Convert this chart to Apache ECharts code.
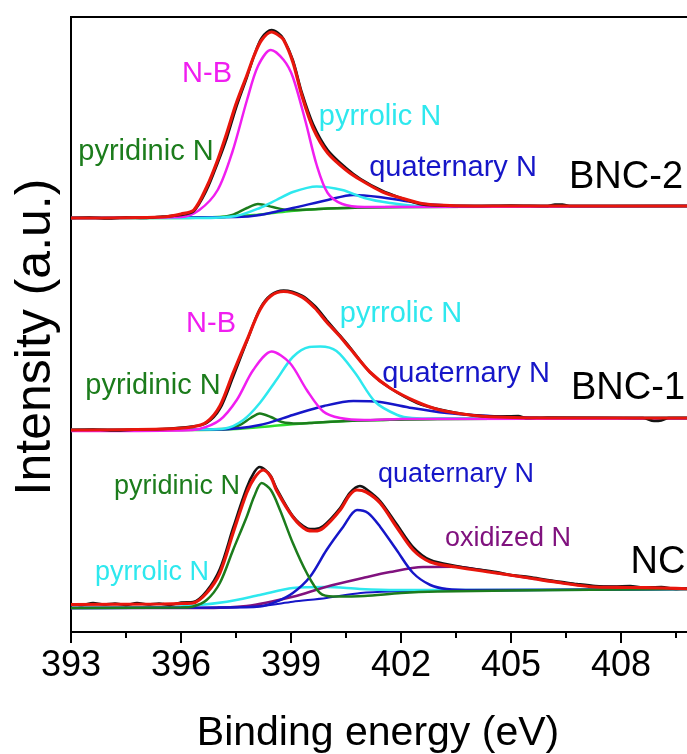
<!DOCTYPE html>
<html>
<head>
<meta charset="utf-8">
<script src="https://cdn.jsdelivr.net/npm/echarts@6/dist/echarts.min.js"></script>
<style>html,body{margin:0;padding:0;background:#fff;overflow:hidden;}#c{width:687px;height:754px;}</style>
</head>
<body>
<div id="c"></div>
<script>
// ---------- DATA (binding energy eV, intensity a.u. above each spectrum's own left baseline) ----------
const xTicks = [393, 396, 399, 402, 405, 408];
const sampleNames = ['BNC-2', 'BNC-1', 'NC'];

// BNC-2
const BNC2_bg = [[393,0],[396,0],[397,1],[398,3],[398.5,5],[399,7],[399.5,8.5],[400,9.5],[401,10.5],[402,11],[410,12]];
const BNC2_fit = [[393,0],[395.5,1],[396,4],[396.35,8],[396.7,31],[397,58],[397.25,85],[397.5,114],[397.8,143],[398,163],[398.2,178],[398.47,186],[398.65,183],[398.8,178],[399.05,156],[399.3,122],[399.6,90],[400,65],[400.5,48],[400.9,38],[401.5,26],[402,20],[402.5,15],[403,13],[404,12],[410,12]];
const BNC2_raw = [[393,0],[393.5,0.5],[394,-0.5],[394.5,0.5],[395,0],[395.5,1.5],[396,3],[396.35,7],[396.7,28],[397,55],[397.25,80],[397.5,110],[397.8,141],[398,163],[398.2,180],[398.47,188],[398.65,185],[398.8,179],[399.05,158],[399.3,125],[399.6,94],[400,68],[400.5,50],[400.9,39],[401.5,27],[402,20],[402.5,14],[403,12.5],[404,12],[405,12.5],[406,12],[406.2,13.5],[406.4,13.5],[406.6,12],[408,12],[410,12]];
const BNC2_NB = [[393,0],[396,1],[396.5,8],[397,28],[397.4,66],[397.8,118],[398.1,152],[398.45,168],[398.8,158],[399.05,141],[399.4,96],[399.7,53],[400,25],[400.4,14],[401,11],[410,12]];
const BNC2_pyrrolic = [[393,0],[396.5,0],[397.5,2],[398.15,10],[398.6,18],[399.05,26],[399.7,31.5],[400.4,28],[401,20],[401.7,15],[402.5,12],[410,12]];
const BNC2_quaternary = [[393,0],[397.5,1],[398.15,3],[399.05,10],[400,18],[400.7,23],[401.4,21],[402.3,16],[402.8,13.5],[404,12],[410,12]];
const BNC2_pyridinic = [[393,0],[397,0.5],[397.4,3],[397.8,10],[398.1,14],[398.5,11],[398.9,8],[399.5,8.5],[400,9.5],[401,10.5],[402,11],[410,12]];

// BNC-1
const BNC1_bg = [[393,0],[396.5,0],[397.5,1],[398.5,4],[399.5,7],[400.5,9],[401.5,10],[403,11],[410,12]];
const BNC1_fit = [[393,0],[395.5,1],[396.3,3],[396.7,8],[397.06,24],[397.42,57],[397.8,90],[398.15,120],[398.45,134],[398.8,138.5],[399.3,133],[399.65,122],[399.97,108],[400.3,95],[400.6,82],[401.15,58],[401.7,42],[402.44,28],[403.06,20],[403.88,15],[404.6,13],[406,12],[410,12]];
const BNC1_raw = [[393,0],[393.6,0.5],[394.2,-0.5],[394.8,0.5],[395.5,1],[396.3,3.5],[396.7,7],[397.06,21],[397.42,53],[397.8,89],[398.15,121],[398.45,135],[398.8,139.5],[399.3,134.5],[399.65,124],[399.97,110],[400.3,96],[400.6,83],[401.15,58],[401.7,42],[402.44,27],[403.06,20.5],[403.88,15],[404.6,13.5],[405.2,14],[405.4,12],[406,12.5],[408.6,12],[408.9,9],[409.1,9.5],[409.3,12],[410,12]];
const BNC1_NB = [[393,-1],[396,-0.5],[396.5,1],[397.06,10],[397.52,30],[397.97,60],[398.47,78.5],[398.97,67],[399.43,40],[399.88,18.5],[400.34,12],[401,10],[402,11],[410,11.5]];
const BNC1_pyrrolic = [[393,0],[396.5,0.5],[397.2,1.5],[397.7,10],[398.15,27],[398.6,50],[399.05,73],[399.5,83],[399.8,83.5],[400.24,79],[400.75,57],[401.3,28],[401.9,15],[402.3,12],[403,11.5],[410,12]];
const BNC1_quaternary = [[393,0],[397,0.5],[398.15,5],[399.05,15],[399.9,24],[400.7,29],[401.43,28],[402.3,22],[403.25,17],[404.15,14.5],[405.05,13],[406,12],[410,12]];
const BNC1_pyridinic = [[393,0],[397.2,1],[397.6,5],[397.9,12],[398.15,16.5],[398.45,13],[398.75,8],[399.2,6.5],[399.5,7],[400.5,9],[401.5,10],[403,11],[410,12]];

// NC
const NC_fit = [[393,3.5],[395.5,4],[396,4.5],[396.33,5],[396.7,15],[397.06,35],[397.42,75],[397.79,115],[398,130],[398.24,138],[398.45,131],[398.6,118],[399.05,91],[399.43,78],[399.65,77],[399.88,80],[400.34,98],[400.6,113],[400.8,118],[401.05,116],[401.43,105],[401.88,81],[402.33,58],[402.8,46],[403.5,41],[404.6,35],[405.5,30],[406.4,25],[407.3,21],[408.25,20.5],[409.1,20],[410,19]];
const NC_raw = [[393,4],[393.3,3],[393.6,5],[393.9,3.5],[394.2,4.5],[394.5,3],[394.8,5],[395.1,3.5],[395.4,4.5],[395.7,3],[396,5.5],[396.33,6],[396.7,17],[397.06,39],[397.42,80],[397.79,120],[398,136],[398.15,141],[398.3,138],[398.45,132],[398.6,120],[399.05,92],[399.43,80],[399.65,79],[399.88,82],[400.34,100],[400.6,115],[400.88,122],[401.05,119],[401.43,107],[401.88,84],[402.33,61],[402.8,48],[403.5,42],[404,39],[404.6,36],[405,33],[405.5,31],[406,28],[406.4,26],[406.8,24],[407.3,22],[407.8,21.5],[408.25,22],[408.6,20.5],[409.1,21],[409.5,19],[410,20]];
const NC_pyridinic = [[393,0],[396,0.5],[396.33,1.5],[396.7,8],[397.06,25],[397.42,58],[397.79,91],[398,112],[398.2,125],[398.45,118],[398.7,98],[399.05,65],[399.43,35],[399.79,15],[400.15,11.5],[401,12],[402,15],[403,16.5],[405,17.5],[410,19]];
const NC_quaternary = [[393,0],[397,0.5],[398.15,1.5],[398.6,6.3],[399.05,15],[399.52,31.3],[399.97,58],[400.42,81],[400.8,98],[401.1,95],[401.43,81.3],[401.88,58],[402.33,35],[402.8,23],[403.25,19],[404,18],[410,19]];
const NC_pyrrolic = [[393,0],[395.88,1.3],[397.25,6.3],[398.15,13],[399.05,20],[399.97,21],[400.88,19],[401.88,18],[403.25,18],[405,18],[410,19]];
const NC_oxidized = [[393,0],[396.5,0],[397.79,2],[399.05,11.3],[399.97,21.3],[400.96,30],[401.7,36],[402.6,41],[403.5,41.3],[404.6,35],[405.5,30],[406.4,25],[407.15,22],[408,21],[409,20],[410,19]];
const NC_bg = [[393,0],[395.9,0],[398.15,2],[399.05,6.3],[399.97,10],[400.9,15],[401.8,16.5],[403,17],[410,19]];

// ---------- LAYOUT / STYLE ----------
const OFFSET = {BNC2: 414, BNC1: 202, NC: 24};
const FONT = "'Liberation Sans', Arial, Helvetica, sans-serif";
const C = {raw:'#141414', fit:'#e8160c', nb:'#f01ef0', pyrrolic:'#2ee8ee', quaternary:'#1616c8', pyridinic:'#1c7c1c', bg:'#2ede2e', oxidized:'#80127e'};

function mk(data, off, color, width, z) {
  return {type:'line', data: data.map(p => [p[0], p[1] + off]), symbol:'none', showSymbol:false,
    smooth:0.3, silent:true, z: z, lineStyle:{color: color, width: width}};
}

const series = [
  mk(BNC2_bg, OFFSET.BNC2, C.bg, 2.5, 2),
  mk(BNC2_pyridinic, OFFSET.BNC2, C.pyridinic, 2.5, 3),
  mk(BNC2_quaternary, OFFSET.BNC2, C.quaternary, 2.5, 3),
  mk(BNC2_pyrrolic, OFFSET.BNC2, C.pyrrolic, 2.5, 3),
  mk(BNC2_NB, OFFSET.BNC2, C.nb, 2.5, 4),
  mk(BNC2_raw, OFFSET.BNC2, C.raw, 2.5, 5),
  mk(BNC2_fit, OFFSET.BNC2, C.fit, 3.2, 6),

  mk(BNC1_bg, OFFSET.BNC1, C.bg, 2.5, 2),
  mk(BNC1_pyridinic, OFFSET.BNC1, C.pyridinic, 2.5, 3),
  mk(BNC1_quaternary, OFFSET.BNC1, C.quaternary, 2.5, 3),
  mk(BNC1_pyrrolic, OFFSET.BNC1, C.pyrrolic, 2.5, 3),
  mk(BNC1_NB, OFFSET.BNC1, C.nb, 2.5, 4),
  mk(BNC1_raw, OFFSET.BNC1, C.raw, 2.5, 5),
  mk(BNC1_fit, OFFSET.BNC1, C.fit, 3.2, 6),

  mk(NC_bg, OFFSET.NC, C.quaternary, 2, 2),
  mk(NC_pyrrolic, OFFSET.NC, C.pyrrolic, 2.5, 3),
  mk(NC_oxidized, OFFSET.NC, C.oxidized, 2.5, 3),
  mk(NC_quaternary, OFFSET.NC, C.quaternary, 2.5, 3),
  mk(NC_pyridinic, OFFSET.NC, C.pyridinic, 2.5, 4),
  mk(NC_raw, OFFSET.NC, C.raw, 2.5, 5),
  mk(NC_fit, OFFSET.NC, C.fit, 3.2, 6)
];

function txt(text, x, y, color, size) {
  return {type:'text', x: x, y: y, z: 100, silent:true,
    style:{text: text, fill: color, fontSize: size, fontFamily: FONT, align:'center', verticalAlign:'middle'}};
}

const graphics = [
  txt('N-B', 207, 74, C.nb, 29),
  txt('pyridinic N', 146, 152, C.pyridinic, 29),
  txt('pyrrolic N', 380, 117, C.pyrrolic, 29),
  txt('quaternary N', 453, 168, C.quaternary, 29),
  txt(sampleNames[0], 626, 178, '#000', 38),

  txt('N-B', 211, 324, C.nb, 29),
  txt('pyridinic N', 153, 386, C.pyridinic, 29),
  txt('pyrrolic N', 401, 314, C.pyrrolic, 29),
  txt('quaternary N', 466, 374, C.quaternary, 29),
  txt(sampleNames[1], 628, 389, '#000', 38),

  txt('pyridinic N', 177, 487, C.pyridinic, 27),
  txt('pyrrolic N', 152, 573, C.pyrrolic, 27),
  txt('quaternary N', 456, 475, C.quaternary, 27),
  txt('oxidized N', 508, 539, C.oxidized, 27),
  txt(sampleNames[2], 658, 563, '#000', 38),

  txt('Binding energy (eV)', 378, 734, '#000', 41),
  {type:'text', x: 36, y: 337, rotation: Math.PI / 2, z: 100, silent:true,
    style:{text:'Intensity (a.u.)', fill:'#000', fontSize: 50, fontFamily: FONT, align:'center', verticalAlign:'middle'}}
];

const chart = echarts.init(document.getElementById('c'), null, {renderer:'canvas'});
chart.setOption({
  animation: false,
  backgroundColor: '#fff',
  grid: {left: 71, width: 660, top: 17, height: 615, containLabel: false, outerBoundsMode: 'none',
         show: true, borderColor: '#000', borderWidth: 2, backgroundColor: 'transparent'},
  xAxis: {
    type: 'value', min: xTicks[0], max: 411, interval: xTicks[1] - xTicks[0],
    axisLine: {lineStyle: {color: '#000', width: 2}},
    axisTick: {length: 11, lineStyle: {color: '#000', width: 2}},
    minorTick: {show: true, splitNumber: 2, length: 6, lineStyle: {color: '#000', width: 2}},
    splitLine: {show: false},
    axisLabel: {fontSize: 36, color: '#000', fontFamily: FONT, margin: 16, showMaxLabel: false}
  },
  yAxis: {
    type: 'value', min: 0, max: 615,
    axisLine: {show: true, lineStyle: {color: '#000', width: 2}},
    axisTick: {show: false}, axisLabel: {show: false}, splitLine: {show: false}
  },
  series: series,
  graphic: graphics
});
</script>
</body>
</html>
